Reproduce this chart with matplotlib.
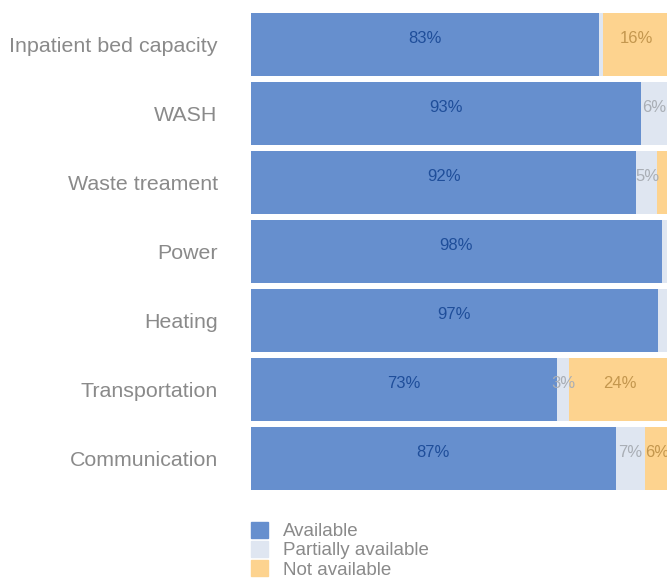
import matplotlib.pyplot as plt
from matplotlib.patches import Patch

categories = ["Inpatient bed capacity", "WASH", "Waste treament", "Power",
              "Heating", "Transportation", "Communication"]
available = [83, 93, 92, 98, 97.1, 73, 87]
partial = [1, 6.5, 5, 2, 2.9, 3, 7]
not_available = [16, 0.5, 2.9, 0, 0, 24, 6]

series_names = ["Available", "Partially available", "Not available"]
colors = ["#668fce", "#dfe6f1", "#fdd38f"]
text_colors = ["#1f4e9a", "#a9aeb5", "#c4974e"]

plt.rcParams['font.family'] = ['Liberation Sans', 'DejaVu Sans']

fig = plt.figure(figsize=(6.67, 5.78), dpi=100)
ax = fig.add_axes([251 / 667, 85 / 578, 416 / 667, 483 / 578])

y = list(range(len(categories)))
left = [0] * len(categories)
for vals, name, col, tcol in zip([available, partial, not_available],
                                 series_names, colors, text_colors):
    ax.barh(y, vals, left=left, height=0.913, color=col, label=name)
    for i, v in enumerate(vals):
        if v >= 3:
            ax.text(left[i] + v / 2, i - 0.09, f"{round(v)}%", ha="center",
                    va="center", color=tcol, fontsize=12)
    left = [l + v for l, v in zip(left, vals)]

ax.set_xlim(0, 416 / 419 * 100)
ax.set_ylim(len(categories) - 0.5, -0.5)
ax.set_yticks(y)
ax.set_yticklabels(categories, fontsize=15.4, color="#8a8a8a")
ax.tick_params(axis="y", length=0, pad=24)
ax.set_xticks([])
for s in ax.spines.values():
    s.set_visible(False)

handles = [Patch(color=c) for c in colors]
fig.legend(handles, series_names, loc="upper left",
           bbox_to_anchor=(251 / 667, 1 - 522 / 578), frameon=False,
           fontsize=13.5, labelcolor="#8a8a8a", handlelength=0.9,
           handleheight=0.9, handletextpad=0.8, labelspacing=0.05,
           borderpad=0.0, borderaxespad=0.0)

fig.savefig("out.png", dpi=100)
